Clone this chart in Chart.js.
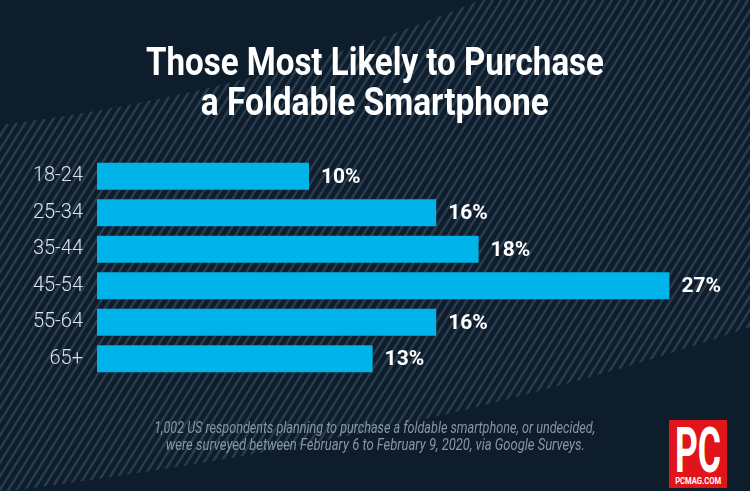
<!DOCTYPE html>
<html>
<head>
<meta charset="utf-8">
<title>Those Most Likely to Purchase a Foldable Smartphone</title>
<script src="https://cdn.jsdelivr.net/npm/chart.js@4.4.1/dist/chart.umd.min.js"></script>
<style>
  html, body { margin: 0; padding: 0; background: #0e1d2c; }
  #wrap { position: relative; width: 750px; height: 491px; overflow: hidden; font-family: Roboto, 'Noto Sans', sans-serif; }
  #chart { position: absolute; left: 0; top: 0; }
  .line { position: absolute; left: 0; width: 750px; text-align: center; white-space: nowrap; }
  .line span { display: inline-block; transform-origin: 50% 50%; }
  .title { color: #ffffff; font-weight: 700; font-size: 39px; line-height: 40px; }
  .note { color: #8a96a3; font-style: italic; font-size: 16px; line-height: 17px; }
  #logo { position: absolute; left: 669px; top: 420px; width: 58px; height: 68px; background: #e1141c; color: #fff; overflow: hidden; }
  #logo .pc, #logo .site { position: absolute; left: -71px; width: 200px; text-align: center; white-space: nowrap; font-weight: 700; }
  #logo .pc { top: -1px; font-size: 63px; line-height: 63px; }
  #logo .site { top: 56px; font-size: 9px; line-height: 10px; }
  #logo span { display: inline-block; transform-origin: 50% 50%; }
</style>
</head>
<body>
<div id="wrap">
  <canvas id="chart" width="750" height="491"></canvas>
  <div class="line title" style="top:42px"><span data-w="458">Those Most Likely to Purchase</span></div>
  <div class="line title" style="top:82px"><span data-w="348">a Foldable Smartphone</span></div>
  <div class="line note" style="top:419px"><span data-w="441">1,002 US respondents planning to purchase a foldable smartphone, or undecided,</span></div>
  <div class="line note" style="top:436px"><span data-w="419">were surveyed between February 6 to February 9, 2020, via Google Surveys.</span></div>
  <div id="logo">
    <div class="pc"><span data-w="46">PC</span></div>
    <div class="site"><span data-w="46">PCMAG.COM</span></div>
  </div>
</div>
<script>
// age groups and share of each that is most likely to buy a foldable phone (%)
const ageGroups = ['18-24', '25-34', '35-44', '45-54', '55-64', '65+'];
const likelyShare = [10, 16, 18, 27, 16, 13];
const axisMin = 0;
const axisMax = 30;

const barColor = '#00b3e8';
const bgColor = '#0e1d2c';
const stripeColor = 'rgba(125,155,180,0.25)';

// squeeze text to the width it has in the original artwork
function fitWidth(el) {
  var target = parseFloat(el.getAttribute('data-w'));
  var w = el.getBoundingClientRect().width;
  if (w > 0) el.style.transform = 'scaleX(' + (target / w) + ')';
}

// dark background with the diagonal striped ribbon
const backdrop = {
  id: 'backdrop',
  beforeDraw(chart) {
    var ctx = chart.ctx;
    var W = chart.width, H = chart.height;
    ctx.save();
    ctx.fillStyle = bgColor;
    ctx.fillRect(0, 0, W, H);
    ctx.beginPath();
    ctx.moveTo(0, 125);
    ctx.quadraticCurveTo(260, 93, 480, 0);
    ctx.lineTo(W, 0);
    ctx.lineTo(W, 327);
    ctx.quadraticCurveTo(425, 440, 0, 492);
    ctx.closePath();
    ctx.clip();
    ctx.strokeStyle = stripeColor;
    ctx.lineWidth = 2.5;
    var run = H / Math.tan(58 * Math.PI / 180);
    for (var x = -run; x < W + 10; x += 8.5) {
      ctx.beginPath();
      ctx.moveTo(x, H);
      ctx.lineTo(x + run, 0);
      ctx.stroke();
    }
    ctx.restore();
  }
};

// percentage written after each bar
const valueLabels = {
  id: 'valueLabels',
  afterDatasetsDraw(chart) {
    var ctx = chart.ctx;
    var meta = chart.getDatasetMeta(0);
    ctx.save();
    ctx.fillStyle = '#ffffff';
    ctx.font = '700 21px Roboto, "Noto Sans", sans-serif';
    ctx.textAlign = 'left';
    ctx.textBaseline = 'middle';
    meta.data.forEach(function (bar, i) {
      ctx.fillText(likelyShare[i] + '%', bar.x + 12, bar.y + 1);
    });
    ctx.restore();
  }
};

function draw() {
  document.querySelectorAll('[data-w]').forEach(fitWidth);

  new Chart(document.getElementById('chart'), {
    type: 'bar',
    data: {
      labels: ageGroups,
      datasets: [{
        data: likelyShare,
        backgroundColor: barColor,
        borderWidth: 0,
        barPercentage: 0.74,
        categoryPercentage: 1
      }]
    },
    options: {
      indexAxis: 'y',
      responsive: false,
      animation: false,
      devicePixelRatio: 1,
      layout: { padding: { top: 158, bottom: 114, left: 0, right: 17 } },
      plugins: {
        legend: { display: false },
        tooltip: { enabled: false },
        title: { display: false }
      },
      scales: {
        x: { display: false, min: axisMin, max: axisMax },
        y: {
          grid: { display: false, drawTicks: false },
          border: { display: false },
          ticks: {
            color: '#dce2e9',
            padding: 14,
            font: { family: 'Roboto, "Noto Sans", sans-serif', size: 20, weight: 300 }
          },
          afterFit(axis) { axis.width = 97; }
        }
      }
    },
    plugins: [backdrop, valueLabels]
  });
}

if (document.fonts && document.fonts.ready) {
  document.fonts.ready.then(draw);
} else {
  draw();
}
</script>
</body>
</html>
